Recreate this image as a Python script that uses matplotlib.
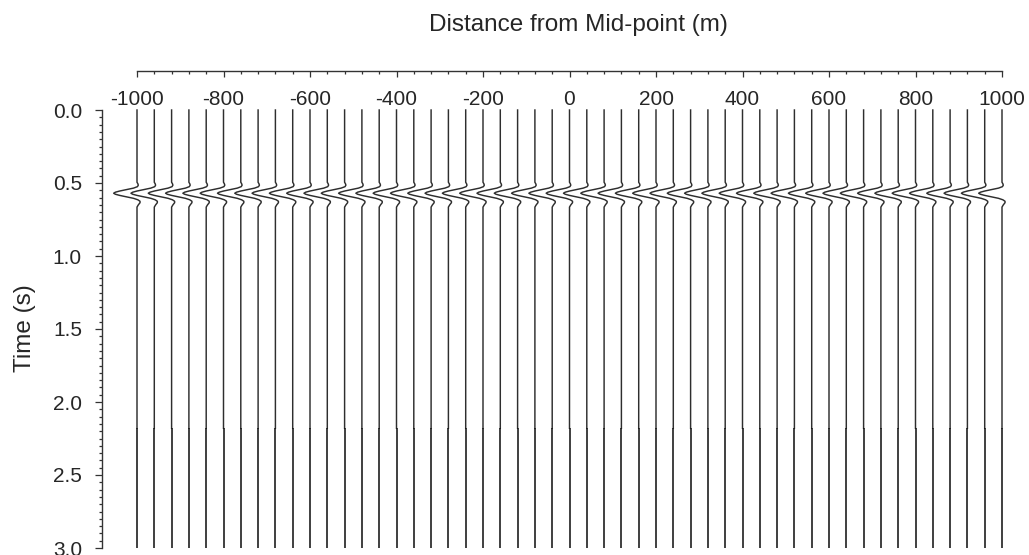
import numpy as np
import matplotlib
matplotlib.use("Agg")
import matplotlib.pyplot as plt
from matplotlib.ticker import FixedLocator, FormatStrFormatter

plt.rcParams['font.family'] = ['Liberation Sans', 'DejaVu Sans']
plt.rcParams['axes.unicode_minus'] = False

# Receiver layout (m from mid-point)
trace_first = -1000
trace_last = 1000
trace_step = 40
offsets = np.arange(trace_first, trace_last + 1, trace_step)

# Flat reflection event (s) and record length
event_time = 0.57
record_start = 0.0
record_end = 3.0
seam_time = 2.18

# Wavelet: time relative to the event (s) and trace deflection (m, negative = left)
wavelet_tau = [-0.075, -0.065, -0.055, -0.045, -0.035, -0.025, -0.015, -0.007,
               0.0, 0.007, 0.015, 0.025, 0.035, 0.045, 0.055, 0.065, 0.08, 0.095]
wavelet_amp = [0.0, 2.0, 3.0, 1.0, -8.0, -24.0, -40.0, -50.0,
               -54.0, -50.0, -40.0, -24.0, -8.0, 2.0, 7.0, 7.0, 3.0, 0.0]

x_ticks = [-1000, -800, -600, -400, -200, 0, 200, 400, 600, 800, 1000]
y_ticks = [0.0, 0.5, 1.0, 1.5, 2.0, 2.5, 3.0]
y_minor_step = 0.05

text_color = '#262626'
W, H = 1029, 555
fig = plt.figure(figsize=(W / 100, H / 100), dpi=100)

ax_l, ax_r, ax_t, ax_b = 102, 1020, 70.7, 548
ax = fig.add_axes([ax_l / W, 1 - ax_b / H, (ax_r - ax_l) / W, (ax_b - ax_t) / H])

px_per_m = (1002 - 137) / 2000.0
px_per_s = (548 - 110) / 3.0
ax.set_xlim(-1000 - (137 - ax_l) / px_per_m, 1000 + (ax_r - 1002) / px_per_m)
ax.set_ylim(3.0, -(110 - ax_t) / px_per_s)

tau = np.asarray(wavelet_tau)
amp = np.asarray(wavelet_amp)
for x0 in offsets:
    t = np.concatenate([[record_start], event_time + tau, [seam_time]])
    x = x0 + np.concatenate([[0.0], amp, [0.0]])
    ax.plot(x, t, color='#2e2e2e', lw=1.05, solid_joinstyle='round')
ax.vlines(offsets, seam_time, record_end, color='#151515', lw=1.15)

# Axes styling
for side in ('right', 'bottom'):
    ax.spines[side].set_visible(False)
ax.spines['top'].set_bounds(-1000, 1000)
ax.spines['left'].set_bounds(0.0, 3.0)
for side in ('top', 'left'):
    ax.spines[side].set_color('#333333')
    ax.spines[side].set_linewidth(1.0)

ax.xaxis.tick_top()
ax.set_xticks(x_ticks)
ax.xaxis.set_minor_locator(FixedLocator(offsets))
ax.tick_params(axis='x', which='major', direction='in', length=4, width=0.9,
               pad=-27.9, labelsize=15, colors='#333333', labelcolor=text_color)
ax.tick_params(axis='x', which='minor', direction='in', length=2, width=0.9,
               colors='#333333')

ax.set_yticks(y_ticks)
ax.yaxis.set_major_formatter(FormatStrFormatter('%.1f'))
n_minor = int(round((record_end - record_start) / y_minor_step))
ax.yaxis.set_minor_locator(FixedLocator(np.linspace(record_start, record_end, n_minor + 1)))
ax.tick_params(axis='y', which='major', direction='out', length=5.3, width=0.9,
               pad=9.1, labelsize=15, colors='#333333', labelcolor=text_color)
ax.tick_params(axis='y', which='minor', direction='out', length=2.4, width=0.9,
               colors='#333333')

ax.xaxis.set_label_position('top')
ax.set_xlabel('Distance from Mid-point (m)', fontsize=17.5, color=text_color)
ax.xaxis.set_label_coords((578 - ax_l) / (ax_r - ax_l), (ax_b - 25) / (ax_b - ax_t))
ax.xaxis.label.set_va('center')

ax.set_ylabel('Time (s)', fontsize=17.5, color=text_color)
ax.yaxis.set_label_coords((25 - ax_l) / (ax_r - ax_l), (ax_b - 328) / (ax_b - ax_t))
ax.yaxis.label.set_va('center')

fig.savefig('out.png', dpi=100)
